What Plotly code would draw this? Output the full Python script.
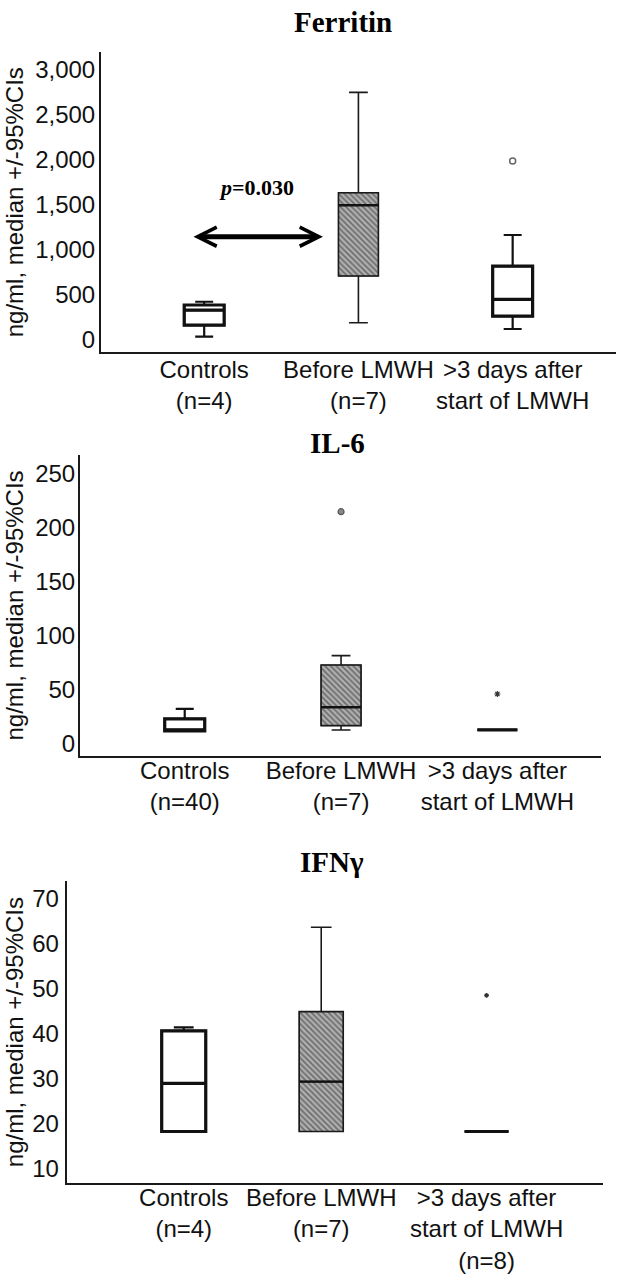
import plotly.graph_objects as go

# ---------------- data ----------------
categories = ["Controls", "Before LMWH", ">3 days after start of LMWH"]

ferritin_labels = ["Controls<br>(n=4)", "Before LMWH<br>(n=7)", ">3 days after<br>start of LMWH"]
ferritin_q1 = [166, 709, 266]
ferritin_median = [332, 1493, 451]
ferritin_q3 = [388, 1632, 820]
ferritin_lower = [37, 192, 122]
ferritin_upper = [424, 2745, 1164]
ferritin_outlier_cat = [2]
ferritin_outlier_val = [1984]
ferritin_ticks = [0, 500, 1000, 1500, 2000, 2500, 3000]
ferritin_ticktext = ["0", "500", "1,000", "1,500", "2,000", "2,500", "3,000"]
ferritin_p_text = "<b><i>p</i>=0.030</b>"
ferritin_p_level = 1145

il6_labels = ["Controls<br>(n=40)", "Before LMWH<br>(n=7)", ">3 days after<br>start of LMWH"]
il6_q1 = [11.4, 16.3, 12.3]
il6_median = [11.4, 33.3, 12.3]
il6_q3 = [22.5, 72.5, 12.3]
il6_lower = [11.4, 12.3, 12.3]
il6_upper = [31.8, 81.1, 12.3]
il6_outlier_cat = [1, 2]
il6_outlier_val = [214.4, 45.6]
il6_ticks = [0, 50, 100, 150, 200, 250]

ifn_labels = ["Controls<br>(n=4)", "Before LMWH<br>(n=7)", ">3 days after<br>start of LMWH<br>(n=8)"]
ifn_q1 = [18.2, 18.2, 18.2]
ifn_median = [28.9, 29.3, 18.2]
ifn_q3 = [40.6, 44.9, 18.2]
ifn_lower = [18.2, 18.2, 18.2]
ifn_upper = [41.4, 63.7, 18.2]
ifn_outlier_cat = [2]
ifn_outlier_val = [48.5]
ifn_ticks = [10, 20, 30, 40, 50, 60, 70]

y_title = "ng/ml, median +/-95%CIs"
titles = ["Ferritin", "IL-6", "IFNγ"]

# ---------------- layout / style ----------------
W, H = 636, 1284
SANS = "Liberation Sans, Arial, sans-serif"
SERIF = "Liberation Serif, Times New Roman, serif"

panels = [
    dict(sfx="", labels=ferritin_labels, q1=ferritin_q1, med=ferritin_median, q3=ferritin_q3,
         lo=ferritin_lower, hi=ferritin_upper, oc=ferritin_outlier_cat, ov=ferritin_outlier_val,
         osym=["circle-open"], ticks=ferritin_ticks, ticktext=ferritin_ticktext,
         pos=[1, 2, 3], xr=[0.331, 3.670], yr=[-136, 3189], bw=0.259,
         xpx=[101, 616], ypx=[52.3, 352.3], title_x=343, title_y=22, ystand=-1, xstand=-5),
    dict(sfx="2", labels=il6_labels, q1=il6_q1, med=il6_median, q3=il6_q3,
         lo=il6_lower, hi=il6_upper, oc=il6_outlier_cat, ov=il6_outlier_val,
         osym=["circle", "asterisk-open"], ticks=il6_ticks, ticktext=[str(t) for t in il6_ticks],
         pos=[1, 2, 3], xr=[0.330, 3.663], yr=[-11.8, 266.9], bw=0.256,
         xpx=[80, 601], ypx=[455, 756], title_x=337, title_y=443, ystand=-2, xstand=-8),
    dict(sfx="3", labels=ifn_labels, q1=ifn_q1, med=ifn_median, q3=ifn_q3,
         lo=ifn_lower, hi=ifn_upper, oc=ifn_outlier_cat, ov=ifn_outlier_val,
         osym=["asterisk-open"], ticks=ifn_ticks, ticktext=[str(t) for t in ifn_ticks],
         pos=[1, 1.908, 3], xr=[0.227, 3.771], yr=[6.66, 74.0], bw=0.291,
         xpx=[66.7, 603.3], ypx=[881, 1183.3], title_x=332, title_y=862, ystand=1, xstand=-8),
]

fig = go.Figure()
annotations = []

for k, p in enumerate(panels):
    xa = "x" + p["sfx"]
    ya = "y" + p["sfx"]
    for i in range(3):
        x = [p["pos"][i]]
        if i == 1:
            # hatched box body
            fig.add_trace(go.Bar(
                x=x, base=[p["q1"][i]], y=[p["q3"][i] - p["q1"][i]], width=p["bw"],
                marker=dict(color="#a8a8a8",
                            pattern=dict(shape="\\", fgcolor="#2a2a2a", bgcolor="#b0b0b0",
                                         size=4, solidity=0.45),
                            line=dict(color="#555555", width=1)),
                xaxis=xa, yaxis=ya, hoverinfo="skip"))
            fig.add_trace(go.Box(
                x=x, q1=[p["q1"][i]], median=[p["med"][i]], q3=[p["q3"][i]],
                lowerfence=[p["lo"][i]], upperfence=[p["hi"][i]], width=p["bw"],
                whiskerwidth=0.47, fillcolor="rgba(0,0,0,0)",
                line=dict(color="#1a1a1a", width=1.6), xaxis=xa, yaxis=ya, hoverinfo="skip"))
            fig.add_trace(go.Scatter(
                x=[p["pos"][i] - p["bw"] / 2, p["pos"][i] + p["bw"] / 2],
                y=[p["med"][i], p["med"][i]], mode="lines",
                line=dict(color="#111111", width=2.4), xaxis=xa, yaxis=ya, hoverinfo="skip"))
        else:
            fig.add_trace(go.Box(
                x=x, q1=[p["q1"][i]], median=[p["med"][i]], q3=[p["q3"][i]],
                lowerfence=[p["lo"][i]], upperfence=[p["hi"][i]], width=p["bw"],
                whiskerwidth=0.45, fillcolor="white",
                line=dict(color="#111111", width=2.2), xaxis=xa, yaxis=ya, hoverinfo="skip"))
            fig.add_trace(go.Box(
                x=x, q1=[p["q1"][i]], median=[p["med"][i]], q3=[p["q3"][i]],
                lowerfence=[p["q1"][i]], upperfence=[p["q3"][i]], width=p["bw"],
                whiskerwidth=0, fillcolor="rgba(0,0,0,0)",
                line=dict(color="#111111", width=3.2), xaxis=xa, yaxis=ya, hoverinfo="skip"))
    # outliers
    for j, (c, v) in enumerate(zip(p["oc"], p["ov"])):
        sym = p["osym"][j]
        if sym == "circle-open":
            mk = dict(symbol=sym, size=6, color="#666666", line=dict(width=1.5, color="#666666"))
        elif sym == "circle":
            mk = dict(symbol=sym, size=6, color="#8a8a8a", line=dict(width=1.2, color="#555555"))
        else:
            mk = dict(symbol=sym, size=5 if k == 1 else 4, color="#333333",
                      line=dict(width=1.2, color="#333333"))
        fig.add_trace(go.Scatter(x=[p["pos"][c]], y=[v], mode="markers", marker=mk,
                                 xaxis=xa, yaxis=ya, hoverinfo="skip"))

    xdom = [p["xpx"][0] / W, p["xpx"][1] / W]
    ydom = [1 - p["ypx"][1] / H, 1 - p["ypx"][0] / H]
    axis_common = dict(showgrid=False, zeroline=False, showline=True, linecolor="#1a1a1a",
                       linewidth=2, ticks="", fixedrange=True)
    xkey = "xaxis" + p["sfx"]
    ykey = "yaxis" + p["sfx"]
    fig.layout[xkey] = dict(axis_common, domain=xdom, range=p["xr"], anchor=ya,
                            tickmode="array", tickvals=p["pos"], ticktext=p["labels"],
                            tickfont=dict(family=SANS, size=24, color="#111111"),
                            ticklabelstandoff=p["xstand"])
    fig.layout[ykey] = dict(axis_common, domain=ydom, range=p["yr"], anchor=xa,
                            tickmode="array", tickvals=p["ticks"], ticktext=p["ticktext"],
                            tickfont=dict(family=SANS, size=24, color="#111111"),
                            ticklabelstandoff=p["ystand"])
    # panel title
    annotations.append(dict(text="<b>%s</b>" % titles[k], xref="paper", yref="paper",
                            x=p["title_x"] / W, y=1 - p["title_y"] / H,
                            xanchor="center", yanchor="middle",
                            showarrow=False, font=dict(family=SERIF, size=29, color="#000000")))
    # y-axis title
    annotations.append(dict(text=y_title, textangle=-90, xref="paper", yref="paper",
                            x=14 / W, y=(ydom[0] + ydom[1]) / 2, xanchor="center",
                            yanchor="middle", showarrow=False,
                            font=dict(family=SANS, size=24, color="#111111")))

# significance arrow + p-value (Ferritin panel)
annotations.append(dict(x=1.770, y=ferritin_p_level, ax=0.921, ay=ferritin_p_level,
                        xref="x", yref="y", axref="x", ayref="y", text="", showarrow=True,
                        arrowhead=5, startarrowhead=5, arrowside="end+start",
                        arrowsize=0.75, startarrowsize=0.75, arrowwidth=5,
                        arrowcolor="#000000", standoff=0, startstandoff=0))
annotations.append(dict(text=ferritin_p_text, xref="paper", yref="paper",
                        x=256 / W, y=1 - 187.5 / H, xanchor="center", yanchor="middle",
                        showarrow=False, font=dict(family=SERIF, size=22, color="#000000")))

fig.update_layout(width=W, height=H, margin=dict(l=0, r=0, t=0, b=0),
                  paper_bgcolor="white", plot_bgcolor="white", showlegend=False,
                  boxmode="overlay", barmode="overlay", annotations=annotations)

fig.write_html("out.html", config={"displayModeBar": False},
               post_script="document.body.style.margin='0';document.body.style.overflow='hidden';")
